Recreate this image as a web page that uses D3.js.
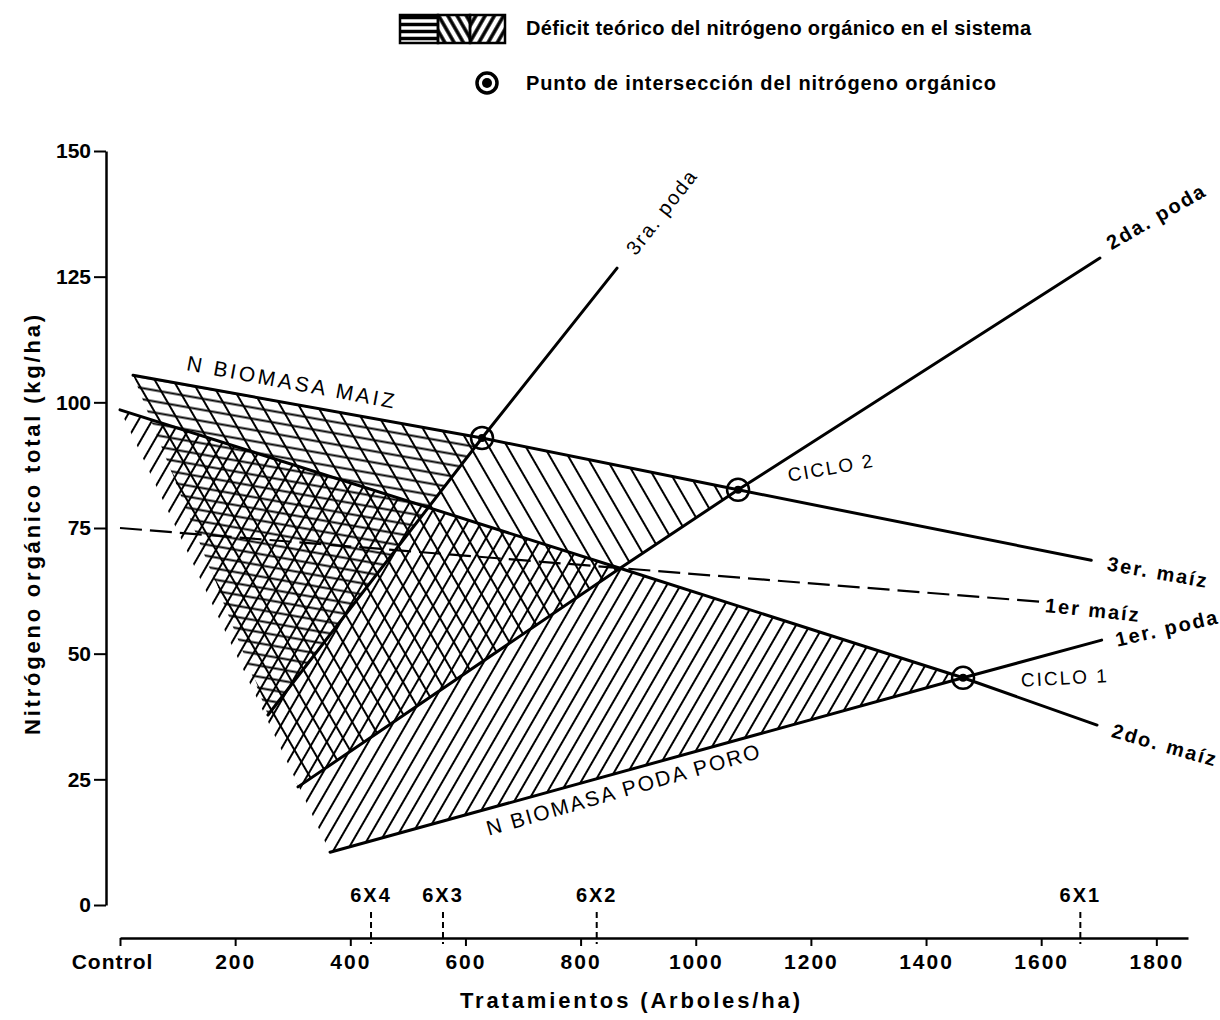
<!DOCTYPE html>
<html>
<head>
<meta charset="utf-8">
<script src="https://cdn.jsdelivr.net/npm/d3@7"></script>
<style>
  body { margin: 0; background: #fff; }
  text { font-family: "Liberation Sans", Arial, sans-serif; fill: #000; }
</style>
</head>
<body>
<div id="chart"></div>
<script>
var svgWidth = 1220;
var svgHeight = 1020;

// axis values
var xTicks = [0, 200, 400, 600, 800, 1000, 1200, 1400, 1600, 1800];
var xTickLabels = ["Control", "200", "400", "600", "800", "1000", "1200", "1400", "1600", "1800"];
var yTicks = [0, 25, 50, 75, 100, 125, 150];
var spacingTicks = [436, 561, 828, 1668];
var spacingLabels = ["6X4", "6X3", "6X2", "6X1"];

// lines: [arboles/ha, kg/ha]
var maiz3 = [[22.6, 105.4], [628.8, 92.9], [1073.5, 82.6], [1687, 68.6]];
var maiz2 = [[0, 98.5], [868.5, 67.0], [1464.3, 45.2], [1697, 35.8]];
var maiz1 = [[0, 75.0], [1601, 60.3]];
var poda1 = [[364.8, 10.5], [1464.3, 45.2], [1705, 52.7]];
var poda2 = [[309.2, 23.5], [868.5, 67.0], [1073.5, 82.6], [1702, 128.7]];
var poda3 = [[257, 37.8], [628.8, 92.9], [863.3, 126.7]];

// intersection points
var crossPoints = [[628.8, 92.9], [1073.5, 82.6], [1464.3, 45.2]];

// deficit areas, built from the lines above
var ciclo1 = [maiz2[0], maiz2[1], maiz2[2], poda1[0]];
var ciclo2 = [maiz3[0], maiz3[1], maiz3[2], poda2[1], poda2[0]];
var ciclo3 = [maiz3[0], maiz3[1], poda3[0]];

// line labels: text, anchor (data units), rotation
var labels = [
  { t: "N BIOMASA MAIZ", x: 299, y: 104.0, r: 10.5, size: 21, w: "normal", ls: 3 },
  { t: "N BIOMASA PODA PORO", x: 875, y: 23.0, r: -16, size: 21, w: "normal", ls: 2 },
  { t: "CICLO 2", x: 1235, y: 87.0, r: -10, size: 19, w: "normal", ls: 2 },
  { t: "CICLO 1", x: 1641, y: 45.2, r: -3, size: 19, w: "normal", ls: 2 },
  { t: "3er. maíz", x: 1803, y: 66.2, r: 10, size: 20, w: "bold", ls: 2 },
  { t: "1er maíz", x: 1690, y: 58.7, r: 6, size: 20, w: "bold", ls: 2 },
  { t: "1er. poda", x: 1819, y: 55.1, r: -13, size: 20, w: "bold", ls: 2 },
  { t: "2do. maíz", x: 1815, y: 31.8, r: 16, size: 20, w: "bold", ls: 2 },
  { t: "2da. poda", x: 1800, y: 137.0, r: -30, size: 20, w: "bold", ls: 2 },
  { t: "3ra. poda", x: 941, y: 137.9, r: -52, size: 20, w: "normal", ls: 2 }
];

var svg = d3.select("#chart")
  .append("svg")
  .attr("width", svgWidth)
  .attr("height", svgHeight);

var xScale = d3.scaleLinear().domain([0, 1855]).range([120, 1188]);
var yScale = d3.scaleLinear().domain([0, 150]).range([905, 151]);

var defs = svg.append("defs");

// hatch pattern: vertical lines turned by angle
function hatch(id, angle, gap, width) {
  defs.append("pattern")
    .attr("id", id)
    .attr("patternUnits", "userSpaceOnUse")
    .attr("width", gap)
    .attr("height", gap)
    .attr("patternTransform", `rotate(${angle})`)
    .append("line")
    .attr("x1", gap / 2).attr("y1", -1)
    .attr("x2", gap / 2).attr("y2", gap + 1)
    .attr("stroke", "#000")
    .attr("stroke-width", width);
}
hatch("h-fwd", 30, 12, 2);
hatch("h-back", -30, 16, 2);
hatch("h-flat", 100, 11, 2);
hatch("l-flat", 90, 7, 3.5);
hatch("l-back", -30, 8, 3.5);
hatch("l-fwd", 30, 8, 3.5);

var line = d3.line()
  .x(d => xScale(d[0]))
  .y(d => yScale(d[1]));

var plot = svg.append("g");

// hatched deficit areas
[[ciclo1, "h-fwd"], [ciclo2, "h-back"], [ciclo3, "h-flat"]].forEach(function(a) {
  plot.append("path")
    .attr("d", line(a[0]) + "Z")
    .attr("fill", `url(#${a[1]})`)
    .attr("stroke", "none");
});

// solid lines
[maiz3, maiz2, poda1, poda2, poda3].forEach(function(l) {
  plot.append("path")
    .attr("d", line(l))
    .attr("fill", "none")
    .attr("stroke", "#000")
    .attr("stroke-width", 3)
    .attr("stroke-linecap", "round");
});

// dashed line
plot.append("path")
  .attr("d", line(maiz1))
  .attr("fill", "none")
  .attr("stroke", "#000")
  .attr("stroke-width", 2.2)
  .attr("stroke-dasharray", "22,8");

// intersection markers
var marks = plot.selectAll(".mark")
  .data(crossPoints)
  .enter()
  .append("g")
  .attr("transform", d => `translate(${xScale(d[0])}, ${yScale(d[1])})`);
marks.append("circle")
  .attr("r", 11)
  .attr("fill", "none")
  .attr("stroke", "#000")
  .attr("stroke-width", 2.5);
marks.append("circle")
  .attr("r", 4)
  .attr("fill", "#000");

// labels on the lines
plot.selectAll(".lbl")
  .data(labels)
  .enter()
  .append("text")
  .attr("transform", d => `translate(${xScale(d.x)}, ${yScale(d.y)}) rotate(${d.r})`)
  .attr("text-anchor", "middle")
  .attr("dy", "0.35em")
  .attr("font-size", d => d.size + "px")
  .attr("font-weight", d => d.w)
  .attr("letter-spacing", d => d.ls + "px")
  .text(d => d.t);

// Y axis
var leftAxis = d3.axisLeft(yScale)
  .tickValues(yTicks)
  .tickSize(12)
  .tickPadding(3)
  .tickSizeOuter(0);

var yAxisG = svg.append("g")
  .attr("transform", "translate(106, 0)")
  .call(leftAxis);

// X axis
var bottomAxis = d3.axisBottom(xScale)
  .tickValues(xTicks)
  .tickFormat((d, i) => xTickLabels[i])
  .tickSize(8)
  .tickPadding(8)
  .tickSizeOuter(0);

var xAxisG = svg.append("g")
  .attr("transform", "translate(0, 938)")
  .call(bottomAxis);

[yAxisG, xAxisG].forEach(function(g) {
  g.select(".domain").attr("stroke-width", 2.5);
  g.selectAll(".tick line").attr("stroke-width", 2);
  g.selectAll(".tick text")
    .attr("font-size", "21px")
    .attr("font-weight", "bold")
    .attr("font-family", "Liberation Sans, Arial, sans-serif");
});
xAxisG.selectAll(".tick text").attr("letter-spacing", "2px");
xAxisG.select(".tick text").attr("dx", "-8").attr("letter-spacing", "1px");

// plant spacing marks on the x axis
var spacing = svg.append("g");
spacingTicks.forEach(function(v, i) {
  spacing.append("line")
    .attr("x1", xScale(v)).attr("x2", xScale(v))
    .attr("y1", 912).attr("y2", 944)
    .attr("stroke", "#000")
    .attr("stroke-width", 2)
    .attr("stroke-dasharray", "6,4");
  spacing.append("text")
    .attr("x", xScale(v))
    .attr("y", 902)
    .attr("text-anchor", "middle")
    .attr("font-size", "20px")
    .attr("font-weight", "bold")
    .attr("letter-spacing", "2px")
    .text(spacingLabels[i]);
});

// axis titles
svg.append("text")
  .attr("transform", "translate(40, 525) rotate(-90)")
  .attr("text-anchor", "middle")
  .attr("font-size", "22px")
  .attr("font-weight", "bold")
  .attr("textLength", 420)
  .text("Nitrógeno orgánico total (kg/ha)");

svg.append("text")
  .attr("x", 630)
  .attr("y", 1008)
  .attr("text-anchor", "middle")
  .attr("font-size", "22px")
  .attr("font-weight", "bold")
  .attr("textLength", 340)
  .text("Tratamientos (Arboles/ha)");

// legend
var legend = svg.append("g");
var swatch = [["l-flat", 400, 38], ["l-back", 438, 32], ["l-fwd", 470, 35]];
swatch.forEach(function(s) {
  legend.append("rect")
    .attr("x", s[1]).attr("y", 15)
    .attr("width", s[2]).attr("height", 28)
    .attr("fill", `url(#${s[0]})`)
    .attr("stroke", "#000")
    .attr("stroke-width", 2.5);
});
legend.append("text")
  .attr("x", 526).attr("y", 35)
  .attr("font-size", "20px")
  .attr("font-weight", "bold")
  .attr("textLength", 505)
  .text("Déficit teórico del nitrógeno orgánico en el sistema");

legend.append("circle")
  .attr("cx", 487).attr("cy", 83)
  .attr("r", 10)
  .attr("fill", "#fff")
  .attr("stroke", "#000")
  .attr("stroke-width", 3.5);
legend.append("circle")
  .attr("cx", 487).attr("cy", 83)
  .attr("r", 5)
  .attr("fill", "#000");
legend.append("text")
  .attr("x", 526).attr("y", 90)
  .attr("font-size", "20px")
  .attr("font-weight", "bold")
  .attr("textLength", 470)
  .text("Punto de intersección del nitrógeno orgánico");
</script>
</body>
</html>
